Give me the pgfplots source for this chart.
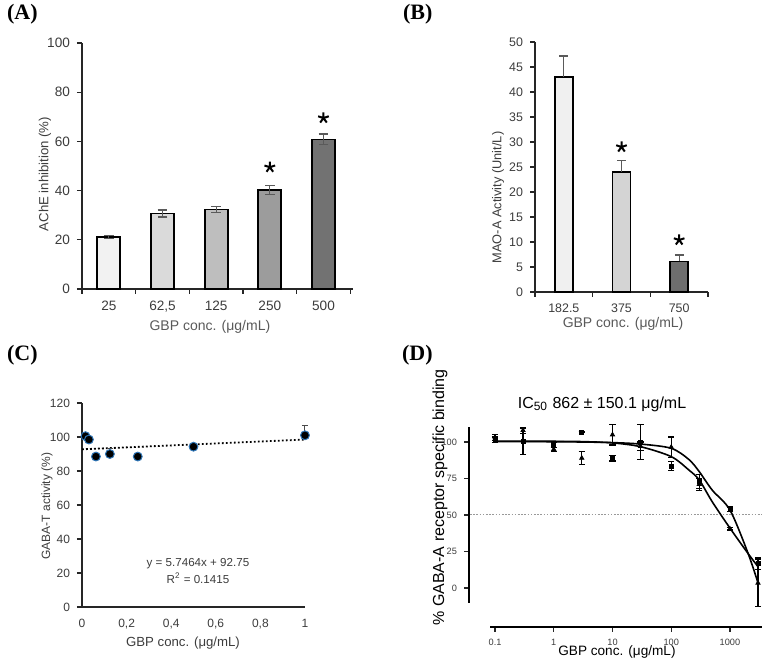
\documentclass[border=0pt]{standalone}
\usepackage{pgfplots}
\pgfplotsset{compat=1.18}
\usepackage{fontspec}
\setmainfont{Liberation Sans}
\newfontfamily\tnr{Liberation Serif}
\definecolor{tk}{HTML}{3C3C3C}
\definecolor{axc}{HTML}{262626}
\definecolor{ebc}{HTML}{5A5A5A}
\definecolor{aA}{HTML}{F2F2F2}
\definecolor{aB}{HTML}{DADADA}
\definecolor{aC}{HTML}{BEBEBE}
\definecolor{aD}{HTML}{9C9C9C}
\definecolor{aE}{HTML}{727272}
\definecolor{bA}{HTML}{F0F0F0}
\definecolor{bB}{HTML}{D4D4D4}
\definecolor{bC}{HTML}{6E6E6E}
\definecolor{cedge}{HTML}{2E75B6}
\pgfplotsset{
  /pgf/number format/assume math mode=true,
  barA/.style={ybar, bar shift=0pt, draw=black, line width=0.9pt,
    error bars/.cd, y dir=both, y explicit,
    error bar style={line width=0.6pt, ebc},
    error mark options={rotate=90, mark size=2.4pt, line width=0.6pt, ebc}, /pgfplots/.cd},
  barB/.style={ybar, bar shift=0pt, draw=black, line width=0.8pt,
    error bars/.cd, y dir=plus, y explicit,
    error bar style={line width=0.6pt, ebc},
    error mark options={rotate=90, mark size=2.2pt, line width=0.6pt, ebc}, /pgfplots/.cd},
  myax/.style={scale only axis, anchor=south west,
    axis x line*=bottom, axis y line*=left,
    axis line style={line width=0.7pt, axc},
    tick align=outside, major tick length=2.5pt,
    tick style={line width=0.6pt, axc},
    tick label style={text=tk},
    clip=false},
}
\begin{document}
\begin{tikzpicture}[x=1pt,y=1pt]
\useasboundingbox (0,0) rectangle (383.5,331);

% ---------------- (A)
\node[anchor=west, font=\tnr\bfseries\fontsize{11}{12}\selectfont] at (0,324) {(A)};
\begin{axis}[myax, at={(41pt,186.5pt)}, width=135.5pt, height=123pt,
  xmin=-0.5, xmax=4.55, ymin=0, ymax=100,
  ytick={0,20,...,100},
  xtick={-0.5,0.5,1.5,2.5,3.5,4.5}, xticklabels={},
  extra x ticks={0,1,2,3,4},
  extra x tick labels={25,{62,5},125,250,500},
  extra x tick style={major tick length=0pt, tick label style={yshift=-2.5pt}},
  tick label style={font=\fontsize{6.8}{7}\selectfont},
  ylabel={AChE inhibition (\%)},
  ylabel style={at={(axis description cs:-0.137,0.467)}, anchor=center, font=\fontsize{6.6}{7}\selectfont, text=tk},
  xlabel={GBP conc. (μg/mL)},
  xlabel style={at={(axis description cs:0.472,-0.154)}, anchor=center, font=\fontsize{7}{8}\selectfont, text=black!65},
]
\addplot[bar width=11.5pt, fill=aA, barA] coordinates {(0,21.0) +- (0,0.6)};
\addplot[bar width=11.5pt, fill=aB, barA] coordinates {(1,30.7) +- (0,1.4)};
\addplot[bar width=11.5pt, fill=aC, barA] coordinates {(2,32.3) +- (0,1.2)};
\addplot[bar width=11.5pt, fill=aD, barA] coordinates {(3,40.3) +- (0,1.8)};
\addplot[bar width=11.5pt, fill=aE, barA] coordinates {(4,60.8) +- (0,2.2)};
\addplot[only marks, mark=star, mark size=2.8pt, mark options={line width=1pt, black}] coordinates {(3,49.5) (4,69.5)};
\end{axis}

% ---------------- (B)
\node[anchor=west, font=\tnr\bfseries\fontsize{11}{12}\selectfont] at (198,324) {(B)};
\begin{axis}[myax, at={(267.5pt,185pt)}, width=86.5pt, height=125pt,
  xmin=-0.5, xmax=2.5, ymin=0, ymax=50,
  ytick={0,5,...,50},
  xtick={-0.5,0.5,1.5,2.5}, xticklabels={},
  extra x ticks={0,1,2},
  extra x tick labels={182.5,375,750},
  extra x tick style={major tick length=0pt, tick label style={yshift=-2.5pt}},
  tick label style={font=\fontsize{6.2}{7}\selectfont},
  ylabel={MAO-A Activity (Unit/L)},
  ylabel style={at={(axis description cs:-0.214,0.378)}, anchor=center, font=\fontsize{6.4}{7}\selectfont, text=tk},
  xlabel={GBP conc. (μg/mL)},
  xlabel style={at={(axis description cs:0.509,-0.128)}, anchor=center, font=\fontsize{7}{8}\selectfont, text=black!65},
]
\addplot[bar width=9pt, fill=bA, barB] coordinates {(0,43.0) +- (0,4.2)};
\addplot[bar width=9pt, fill=bB, barB] coordinates {(1,24.0) +- (0,2.3)};
\addplot[bar width=9pt, fill=bC, barB] coordinates {(2,6.1) +- (0,1.3)};
\addplot[only marks, mark=star, mark size=2.8pt, mark options={line width=1pt, black}] coordinates {(1,29) (2,10.4)};
\end{axis}

% ---------------- (C)
\node[anchor=west, font=\tnr\bfseries\fontsize{11}{12}\selectfont] at (0,153.5) {(C)};
\begin{axis}[myax, at={(41pt,27.5pt)}, width=111.5pt, height=102pt,
  xmin=0, xmax=1, ymin=0, ymax=120,
  ytick={0,20,...,120},
  xtick={0,0.2,0.4,0.6,0.8,1}, xticklabels={0,{0,2},{0,4},{0,6},{0,8},1},
  x tick style={draw=none},
  tick label style={font=\fontsize{6}{7}\selectfont},
  ylabel={GABA-T activity (\%)},
  ylabel style={at={(axis description cs:-0.157,0.495)}, anchor=center, font=\fontsize{6}{7}\selectfont, text=tk},
  xlabel={GBP conc. (μg/mL)},
  xlabel style={at={(axis description cs:0.453,-0.176)}, anchor=center, font=\fontsize{6.6}{8}\selectfont, text=tk},
]
\addplot[black, line width=0.9pt, dash pattern=on 0.9pt off 1.1pt] coordinates {(0,92.75) (1,98.4964)};
\addplot[only marks, mark=*, mark size=2.2pt, mark options={fill=black, draw=cedge, line width=0.5pt},
  error bars/.cd, y dir=plus, y explicit, error bar style={line width=0.5pt, black!70},
  error mark options={rotate=90, mark size=1.5pt, line width=0.5pt, black!70}]
  coordinates {(0.0156,100.5) +- (0,0) (0.031,98.5) +- (0,0) (0.0625,88.5) +- (0,0) (0.125,90) +- (0,3) (0.25,88.5) +- (0,0) (0.5,94.3) +- (0,0) (1,101) +- (0,6)};
\node[font=\fontsize{5.8}{7}\selectfont, text=tk] at (axis cs:0.52,25.3) {y = 5.7464x + 92.75};
\node[font=\fontsize{5.8}{7}\selectfont, text=tk] at (axis cs:0.52,17) {R\textsuperscript{2} = 0.1415};
\end{axis}

% ---------------- (D)
\node[anchor=west, font=\tnr\bfseries\fontsize{11}{12}\selectfont] at (197.5,153.5) {(D)};
% x axis only
\begin{axis}[myax, at={(245pt,17.5pt)}, width=136pt, height=10pt,
  xmode=log, xmin=0.082, xmax=3510, ymin=0, ymax=1,
  axis y line=none,
  axis line style={line width=0.8pt, black},
  xtick={0.1,1,10,100,1000}, xticklabels={0.1,1,10,100,1000}, xminorticks=false,
  tick label style={font=\fontsize{4.6}{5}\selectfont},
]
\end{axis}
% y axis and data
\begin{axis}[myax, at={(234.5pt,29.5pt)}, width=146.5pt, height=88pt,
  xmode=log, xmin=0.0361, xmax=3510, ymin=-10.3, ymax=110.3,
  axis x line=none,
  axis line style={line width=0.8pt, black},
  ytick={0,25,50,75,100}, xminorticks=false, yminorticks=false,
  tick label style={font=\fontsize{4.6}{5}\selectfont},
  title={IC\textsubscript{50} 862 ± 150.1 μg/mL},
  title style={at={(axis description cs:0.454,1)}, anchor=center, yshift=5.5pt, font=\fontsize{8}{9}\selectfont},
  ylabel={\% GABA-A receptor specific binding},
  ylabel style={at={(axis description cs:-0.099,0.6)}, anchor=center, font=\fontsize{8}{9}\selectfont},
]
\addplot[black!40, line width=0.5pt, dash pattern=on 0.8pt off 0.8pt] coordinates {(0.0375,50) (3510,50)};
\addplot[black, line width=0.8pt, smooth, tension=0.5] coordinates {
 (0.1,100.3) (1,100.2) (3,100.0) (10,99.6) (30,98.6) (100,95.7) (200,88) (300,79.7) (500,67) (1000,53.4) (2000,24.5) (3000,3.5)};
\addplot[black, line width=0.8pt, smooth, tension=0.5] coordinates {
 (0.1,100.6) (1,100.5) (3,100.3) (10,99.4) (30,96.8) (100,90) (200,80.8) (300,74) (500,59) (1000,41) (2000,24) (3000,14.6)};
\addplot[only marks, mark=triangle*, mark size=1.2pt, black,
  error bars/.cd, y dir=both, y explicit, error bar style={line width=0.6pt, black},
  error mark options={rotate=90, mark size=1.6pt, line width=0.6pt, black}]
  coordinates {(0.1,103) +- (0,2) (0.3,108) +- (0,2) (1,95) +- (0,1.5) (3,89) +- (0,4.5) (10,105) +- (0,7)
   (30,97) +- (0,3) (100,96.5) +- (0,7) (300,71) +- (0,4) (1000,40.5) +- (0,0.8) (3000,3.4) +- (0,16)};
\addplot[only marks, mark=square*, mark size=1pt, black,
  error bars/.cd, y dir=both, y explicit, error bar style={line width=0.6pt, black},
  error mark options={rotate=90, mark size=1.6pt, line width=0.6pt, black}]
  coordinates {(0.1,101.5) +- (0,2) (0.3,100.5) +- (0,9) (1,98) +- (0,1.5) (3,106.8) +- (0,0) (10,89) +- (0,2)
   (30,100) +- (0,12) (100,83.5) +- (0,3) (300,73) +- (0,5) (1000,54) +- (0,1.5) (3000,16.5) +- (0,4)};
\node[font=\fontsize{6.8}{8}\selectfont] at (rel axis cs:0.505,-0.278) {GBP conc. (μg/mL)};
\end{axis}
\end{tikzpicture}
\end{document}
